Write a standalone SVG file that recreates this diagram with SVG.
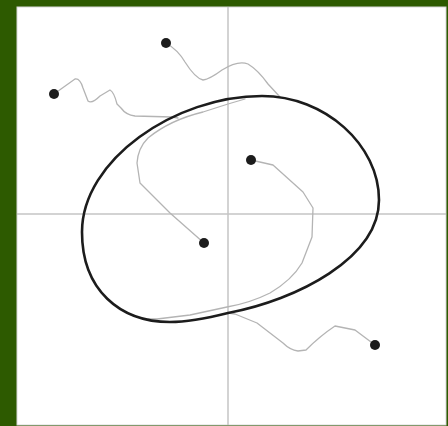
<svg xmlns="http://www.w3.org/2000/svg" width="448" height="426" viewBox="0 0 448 426">
<style>
.axis{stroke:#c4c4c4;stroke-width:1.5;fill:none}
.trail{stroke:#b4b4b4;stroke-width:1.3;fill:none;stroke-linejoin:round;stroke-linecap:round}
.orbit{stroke:#1c1c1c;stroke-width:2.6;fill:none}
.dot{fill:#1c1c1c}
</style>
<rect x="0" y="0" width="448" height="426" fill="#2d5a00"/>
<rect x="17" y="7" width="429" height="418" fill="#ffffff" stroke="#d8d8d8" stroke-width="1"/>
<g id="axes">
<line class="axis" x1="228" y1="7" x2="228" y2="425"/>
<line class="axis" x1="17" y1="214" x2="446" y2="214"/>
</g>
<g id="connectors">
<path class="trail" d="M54,94 L75,79 Q80,78 83,88 L88,101 Q92,104 100,96 L110,90 Q114,92 117,104 L121,108 Q126,115 135,116 L172,117 L178,118"/>
<path class="trail" d="M166,43 Q178,50 185,62 Q195,78 203,80 Q210,79 222,70 Q238,60 248,64 Q258,70 268,84 L280,97"/>
<path class="trail" d="M204,243 L170,213 L140,183 L137,163 Q138,148 148,138 Q170,120 203,112 L228,104 L245,99"/>
<path class="trail" d="M251,160 L273,165 L303,192 L313,208 L312,237 L302,263 Q292,280 270,293 Q250,303 227,307 L190,315 L157,319 L148,319"/>
<path class="trail" d="M375,345 L355,330 L335,326 Q320,336 306,350 L298,351 Q290,350 283,343 L257,323 L235,314 L228,313"/>
</g>
<g id="orbit">
<path class="orbit" d="M262,96 C325,96 379,145 379,200 C379,258 297,300 228,313 C200,320 185,322 170,322 C120,322 82,290 82,232 C82,160 175,96 262,96 Z"/>
</g>
<g id="node-1"><circle class="dot" cx="166" cy="43" r="5"/></g>
<g id="node-2"><circle class="dot" cx="54" cy="94" r="5"/></g>
<g id="node-3"><circle class="dot" cx="251" cy="160" r="5"/></g>
<g id="node-4"><circle class="dot" cx="204" cy="243" r="5"/></g>
<g id="node-5"><circle class="dot" cx="375" cy="345" r="5"/></g>
</svg>
